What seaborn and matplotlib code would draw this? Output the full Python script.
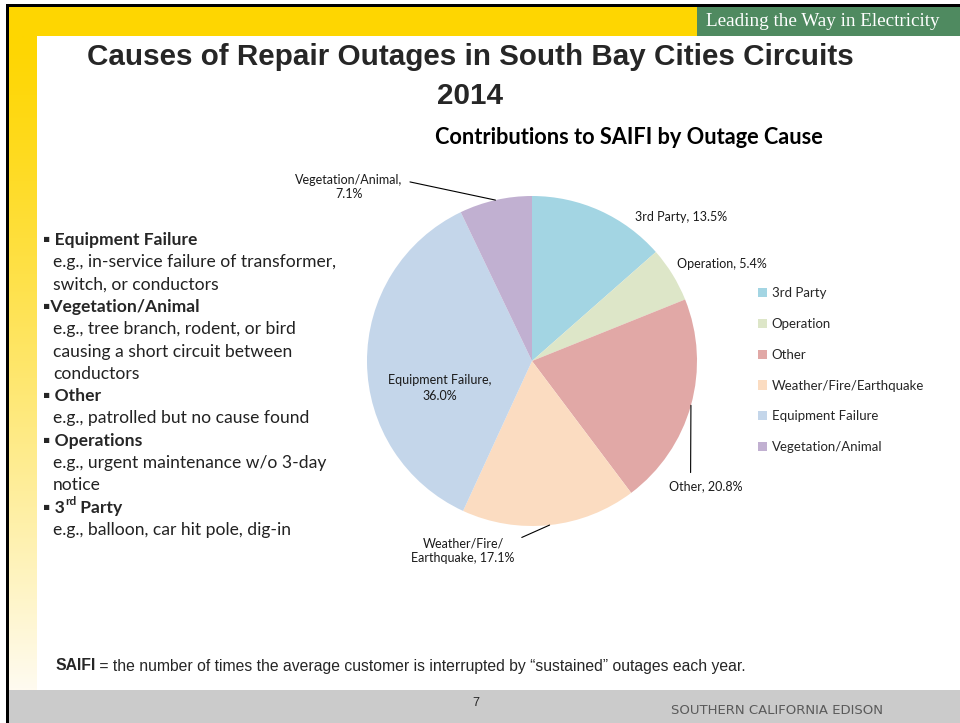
import numpy as np
import matplotlib
matplotlib.use("Agg")
import matplotlib.pyplot as plt
import seaborn as sns
from matplotlib.patches import Rectangle

###

causes = ['3rd Party', 'Operation', 'Other', 'Weather/Fire/Earthquake', 'Equipment Failure', 'Vegetation/Animal']
shares = [13.5, 5.4, 20.8, 17.1, 36.0, 7.1]
slice_labels = ['3rd Party, 13.5%', 'Operation, 5.4%', 'Other, 20.8%',
                'Weather/Fire/\nEarthquake, 17.1%', 'Equipment Failure,\n36.0%', 'Vegetation/Animal,\n7.1%']
slice_colors = ['#A3D5E3', '#DDE6C8', '#E1A8A6', '#FBDCC1', '#C4D6EA', '#C1B0D1']

bullet_heads = ['Equipment Failure', 'Vegetation/Animal', 'Other', 'Operations', '3rd Party']
bullet_notes = [['e.g., in-service failure of transformer,', 'switch, or conductors'],
                ['e.g., tree branch, rodent, or bird', 'causing a short circuit between', 'conductors'],
                ['e.g., patrolled but no cause found'],
                ['e.g., urgent maintenance w/o 3-day', 'notice'],
                ['e.g., balloon, car hit pole, dig-in']]

slide_title = ['Causes of Repair Outages in South Bay Cities Circuits', '2014']
chart_title = 'Contributions to SAIFI by Outage Cause'
tagline = 'Leading the Way in Electricity'
saifi_note = ' = the number of times the average customer is interrupted by \u201csustained\u201d outages each year.'

###

sns.set_style('white')
plt.rcParams['font.family'] = ['Lato', 'DejaVu Sans']

W, H = 960, 723
fig = plt.figure(figsize=(W / 100, H / 100), dpi=100)

# slide decoration, in pixel coordinates
bg = fig.add_axes([0, 0, 1, 1], zorder=-1)
bg.set_xlim(0, W); bg.set_ylim(H, 0); bg.axis('off')

yellow = np.array([254, 214, 1]) / 255
cream = np.array([255, 251, 240]) / 255
t = np.linspace(0, 1, 200)[:, None, None] ** 1.2
grad = yellow * (1 - t) + cream * t
bg.imshow(np.repeat(grad, 2, axis=1), extent=(8, 37, 690, 36), aspect='auto', interpolation='bilinear', zorder=1)
bg.add_patch(Rectangle((8, 6), W - 8, 30, color='#FED601', lw=0, zorder=1))
bg.add_patch(Rectangle((697, 6), W - 697, 30, color='#4F8A60', lw=0, zorder=2))
bg.add_patch(Rectangle((8, 690), W - 8, H - 690, color='#CBCBCB', lw=0, zorder=1))
bg.add_patch(Rectangle((6, 4), W - 6, 2.5, color='black', lw=0, zorder=3))
bg.add_patch(Rectangle((6, 4), 2.5, H - 4, color='black', lw=0, zorder=3))

bg.text(823, 21, tagline, color='white', fontsize=13.8, family='Liberation Serif', ha='center', va='center', zorder=4)
for line, ty in zip(slide_title, [57, 96]):
    bg.text(470, ty, line, fontsize=21.3, fontweight='bold', family='Liberation Sans', color='#262626',
            ha='center', va='center', zorder=4)
bg.text(629, 138, chart_title, fontsize=15.7, fontweight='bold', color='black', ha='center', va='center', zorder=4)

# left explanation list
y = 240
step = 22.3
fs = 12.6
for head, notes in zip(bullet_heads, bullet_notes):
    if head == '3rd Party':
        t1 = bg.text(43, y, '\u25aa 3', fontsize=fs, fontweight='bold', va='center', zorder=4)
        t2 = bg.annotate('rd', xy=(1, 0.55), xycoords=t1, fontsize=8.5, fontweight='bold', va='bottom', zorder=4)
        bg.annotate(' Party', xy=(1, 0.5), xycoords=(t2, t1), fontsize=fs, fontweight='bold', va='center', zorder=4)
    else:
        sep = '' if head == 'Vegetation/Animal' else ' '
        bg.text(43, y, '\u25aa' + sep + head, fontsize=fs, fontweight='bold', va='center', zorder=4)
    y += step
    for line in notes:
        bg.text(53, y, line, fontsize=fs, color='#222222', va='center', zorder=4)
        y += step

# SAIFI definition and footer
s1 = bg.text(55, 666, 'SAIFI', fontsize=11.35, fontweight='bold', family='Liberation Sans', va='center', zorder=4)
bg.annotate(saifi_note, xy=(1, 0.5), xycoords=s1, fontsize=11.35, family='Liberation Sans', va='center', zorder=4)
bg.text(476, 703, '7', fontsize=9, family='Liberation Sans', ha='center', va='center', zorder=4)
bg.text(777, 711, 'SOUTHERN CALIFORNIA EDISON', fontsize=9.5, family='DejaVu Sans', color='#5a5a5a',
        ha='center', va='center', zorder=4)

# pie chart
cx, cy, r = 532, 361, 165
ax = fig.add_axes([(cx - r) / W, (H - cy - r) / H, 2 * r / W, 2 * r / H])
wedges, _ = ax.pie(shares, colors=sns.color_palette(slice_colors), startangle=90, counterclock=False,
                   radius=1, wedgeprops=dict(linewidth=0))
ax.set_xlim(-1, 1); ax.set_ylim(-1, 1); ax.axis('off')

def px(x, y):
    return (x - cx) / r, (cy - y) / r

label_pos = [(635, 217), (677, 264), (706, 486), (463, 551), (440, 388), (349, 187)]
label_ha = ['left', 'left', 'center', 'center', 'center', 'center']
leader = {2: dict(relpos=(0.29, 1.0), connectionstyle='arc3'),
          3: dict(relpos=(0.87, 0.75), connectionstyle='angle,angleA=0,angleB=204,rad=0'),
          5: dict(relpos=(1.0, 0.75), connectionstyle='angle,angleA=0,angleB=168,rad=0')}

for i, w in enumerate(wedges):
    mid = np.deg2rad((w.theta1 + w.theta2) / 2)
    xt, yt = px(*label_pos[i])
    kw = dict(fontsize=9, ha=label_ha[i], va='center', color='#1a1a1a', linespacing=1.3)
    if i in leader:
        ax.annotate(slice_labels[i], xy=(np.cos(mid), np.sin(mid)), xytext=(xt, yt),
                    arrowprops=dict(arrowstyle='-', color='black', lw=0.8, shrinkA=3, shrinkB=0, **leader[i]),
                    annotation_clip=False, **kw)
    else:
        ax.text(xt, yt, slice_labels[i], **kw)

fig.legend(wedges, causes, loc='upper left', bbox_to_anchor=(758 / W, 1 - 287 / H), frameon=False,
           fontsize=9.5, handlelength=0.7, handleheight=0.7, handletextpad=0.35, labelspacing=1.43,
           borderaxespad=0, borderpad=0)

fig.savefig('out.png', dpi=100)
